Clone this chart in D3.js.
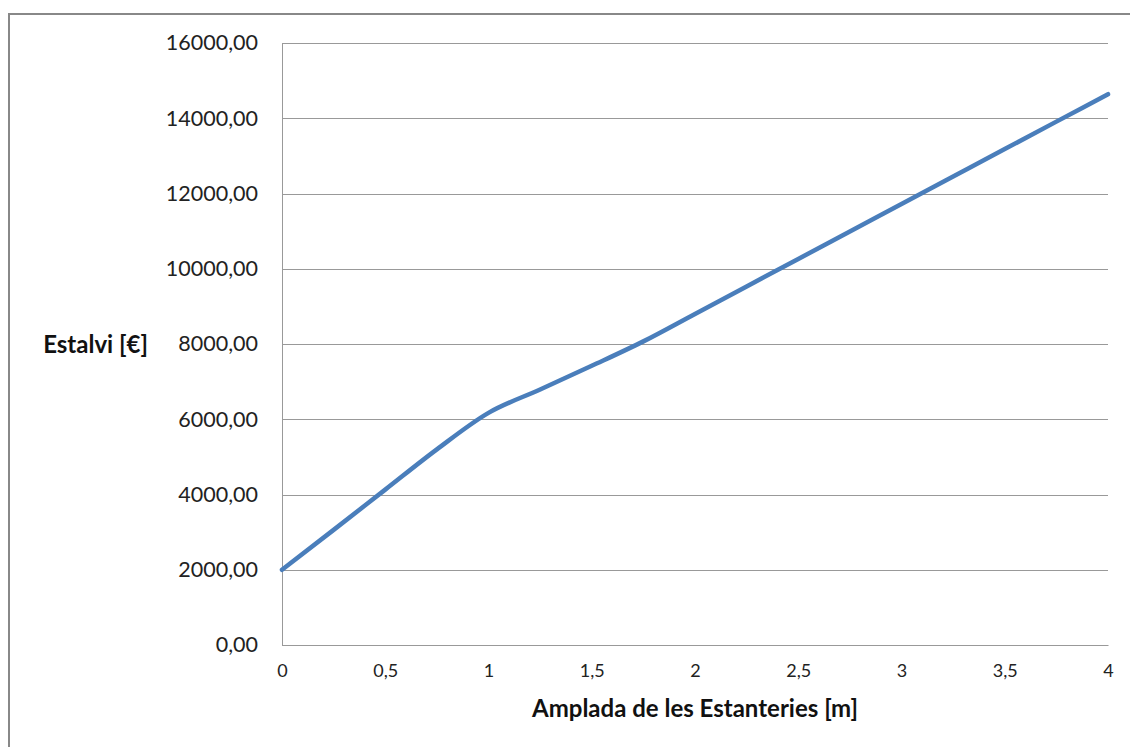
<!DOCTYPE html>
<html>
<head>
<meta charset="utf-8">
<script src="https://cdn.jsdelivr.net/npm/d3@7"></script>
<style>
  body { margin: 0; background: #fff; }
  svg { display: block; }
  .tick text { font-family: Lato, "Open Sans", sans-serif; fill: #222; }
</style>
</head>
<body>
<div id="chart"></div>
<script>
// width of the shelves [m]
var amplada = [0, 0.25, 0.5, 0.75, 1, 1.25, 1.5, 1.75, 2, 2.25, 2.5, 2.75, 3, 3.25, 3.5, 3.75, 4];
// savings [€]
var estalvi = [2000, 3060, 4130, 5200, 6170, 6790, 7420, 8070, 8800, 9530, 10260, 10990, 11720, 12450, 13180, 13910, 14640];

var xTicks = [0, 0.5, 1, 1.5, 2, 2.5, 3, 3.5, 4];
var yTicks = [0, 2000, 4000, 6000, 8000, 10000, 12000, 14000, 16000];

function init(){

  var W = 1130, H = 747;
  var left = 282, right = 1108, top = 43, bottom = 645;

  var dataset = amplada.map(function(d, i){ return {x: d, y: estalvi[i]}; });

  var svg = d3.select("#chart").append("svg")
              .attr("width", W)
              .attr("height", H);

  //outer frame
  svg.append("rect")
     .attr("x", 9).attr("y", 14)
     .attr("width", W + 20).attr("height", H + 20)
     .attr("fill", "none")
     .attr("stroke", "#888")
     .attr("stroke-width", 2);

  var xScale = d3.scaleLinear().domain([0, 4]).range([left, right]);
  var yScale = d3.scaleLinear().domain([0, 16000]).range([bottom, top]);

  var fmt = function(d){ return d3.format(".2f")(d).replace(".", ","); };

  //gridlines
  svg.append("g")
     .selectAll("line")
     .data(yTicks)
     .enter()
     .append("line")
       .attr("x1", left).attr("x2", right)
       .attr("y1", function(d){ return Math.round(yScale(d)) + 0.5; })
       .attr("y2", function(d){ return Math.round(yScale(d)) + 0.5; })
       .attr("stroke", "#999")
       .attr("stroke-width", 1);

  //y-axis
  var yAxis = d3.axisLeft(yScale)
                .tickValues(yTicks)
                .tickSize(0)
                .tickPadding(24)
                .tickFormat(fmt);
  var gy = svg.append("g")
     .attr("transform", "translate(" + left + ",0)")
     .call(yAxis);
  gy.select(".domain").attr("stroke", "#999");
  gy.selectAll(".tick text").style("font-size", "21.5px");

  //x-axis
  var xAxis = d3.axisBottom(xScale)
                .tickValues(xTicks)
                .tickSize(0)
                .tickPadding(19)
                .tickFormat(function(d){ return String(d).replace(".", ","); });
  var gx = svg.append("g")
     .attr("transform", "translate(0," + bottom + ")")
     .call(xAxis);
  gx.select(".domain").attr("stroke", "#999");
  gx.selectAll(".tick text").style("font-size", "18px");

  //line
  var line = d3.line()
      .x(function(d){ return xScale(d.x); })
      .y(function(d){ return yScale(d.y); })
      .curve(d3.curveMonotoneX);

  svg.append("path")
     .datum(dataset)
     .attr("d", line)
     .attr("fill", "none")
     .attr("stroke", "#4a7ebb")
     .attr("stroke-width", 4.5)
     .attr("stroke-linecap", "round");

  //axis titles
  svg.append("text")
     .attr("x", (left + right) / 2)
     .attr("y", 717)
     .attr("text-anchor", "middle")
     .style("font", "bold 24px Lato, 'Open Sans', sans-serif")
     .style("fill", "#111")
     .text("Amplada de les Estanteries [m]");

  svg.append("text")
     .attr("x", 148)
     .attr("y", 353)
     .attr("text-anchor", "end")
     .style("font", "bold 24px Lato, 'Open Sans', sans-serif")
     .style("fill", "#111")
     .text("Estalvi [€]");
}

window.onload = init;
</script>
</body>
</html>
